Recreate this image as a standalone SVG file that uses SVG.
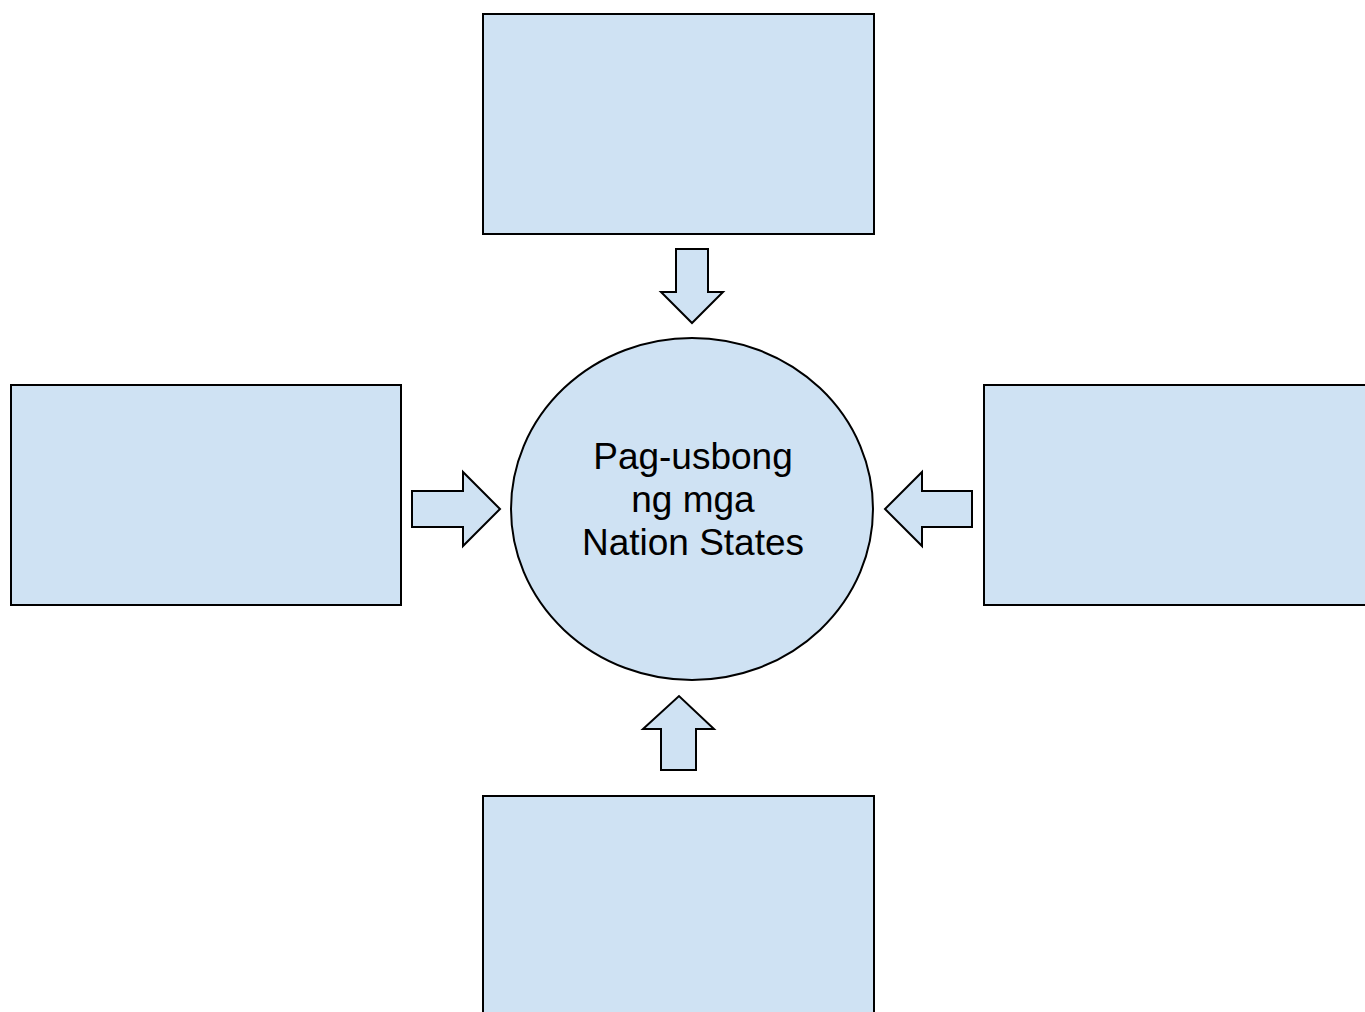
<svg xmlns="http://www.w3.org/2000/svg" width="1365" height="1012" viewBox="0 0 1365 1012">
<style>
.s{fill:#cfe2f3;stroke:#000;stroke-width:2}
.t{font-family:"Liberation Sans",Arial,sans-serif;font-size:37px;fill:#000;text-anchor:middle}
</style>
<rect width="1365" height="1012" fill="#fff"/>
<g id="box-top"><rect class="s" x="483" y="14" width="391" height="220"/></g>
<g id="box-left"><rect class="s" x="11" y="385" width="390" height="220"/></g>
<g id="box-right"><rect class="s" x="984" y="385" width="391" height="220"/></g>
<g id="box-bottom"><rect class="s" x="483" y="796" width="391" height="230"/></g>
<g id="center">
<ellipse class="s" cx="692" cy="509" rx="181" ry="171"/>
<text class="t" x="693" y="469">Pag-usbong</text>
<text class="t" x="693" y="512">ng mga</text>
<text class="t" x="693" y="555">Nation States</text>
</g>
<g id="connectors">
<polygon class="s" points="676,249 708,249 708,292 723,292 692,323 661,292 676,292"/>
<polygon class="s" points="412,491 463,491 463,472 500,509 463,546 463,527 412,527"/>
<polygon class="s" points="972,491 922,491 922,472 885,509 922,546 922,527 972,527"/>
<polygon class="s" points="661,770 696,770 696,729 714,729 679,696 643,729 661,729"/>
</g>
</svg>
